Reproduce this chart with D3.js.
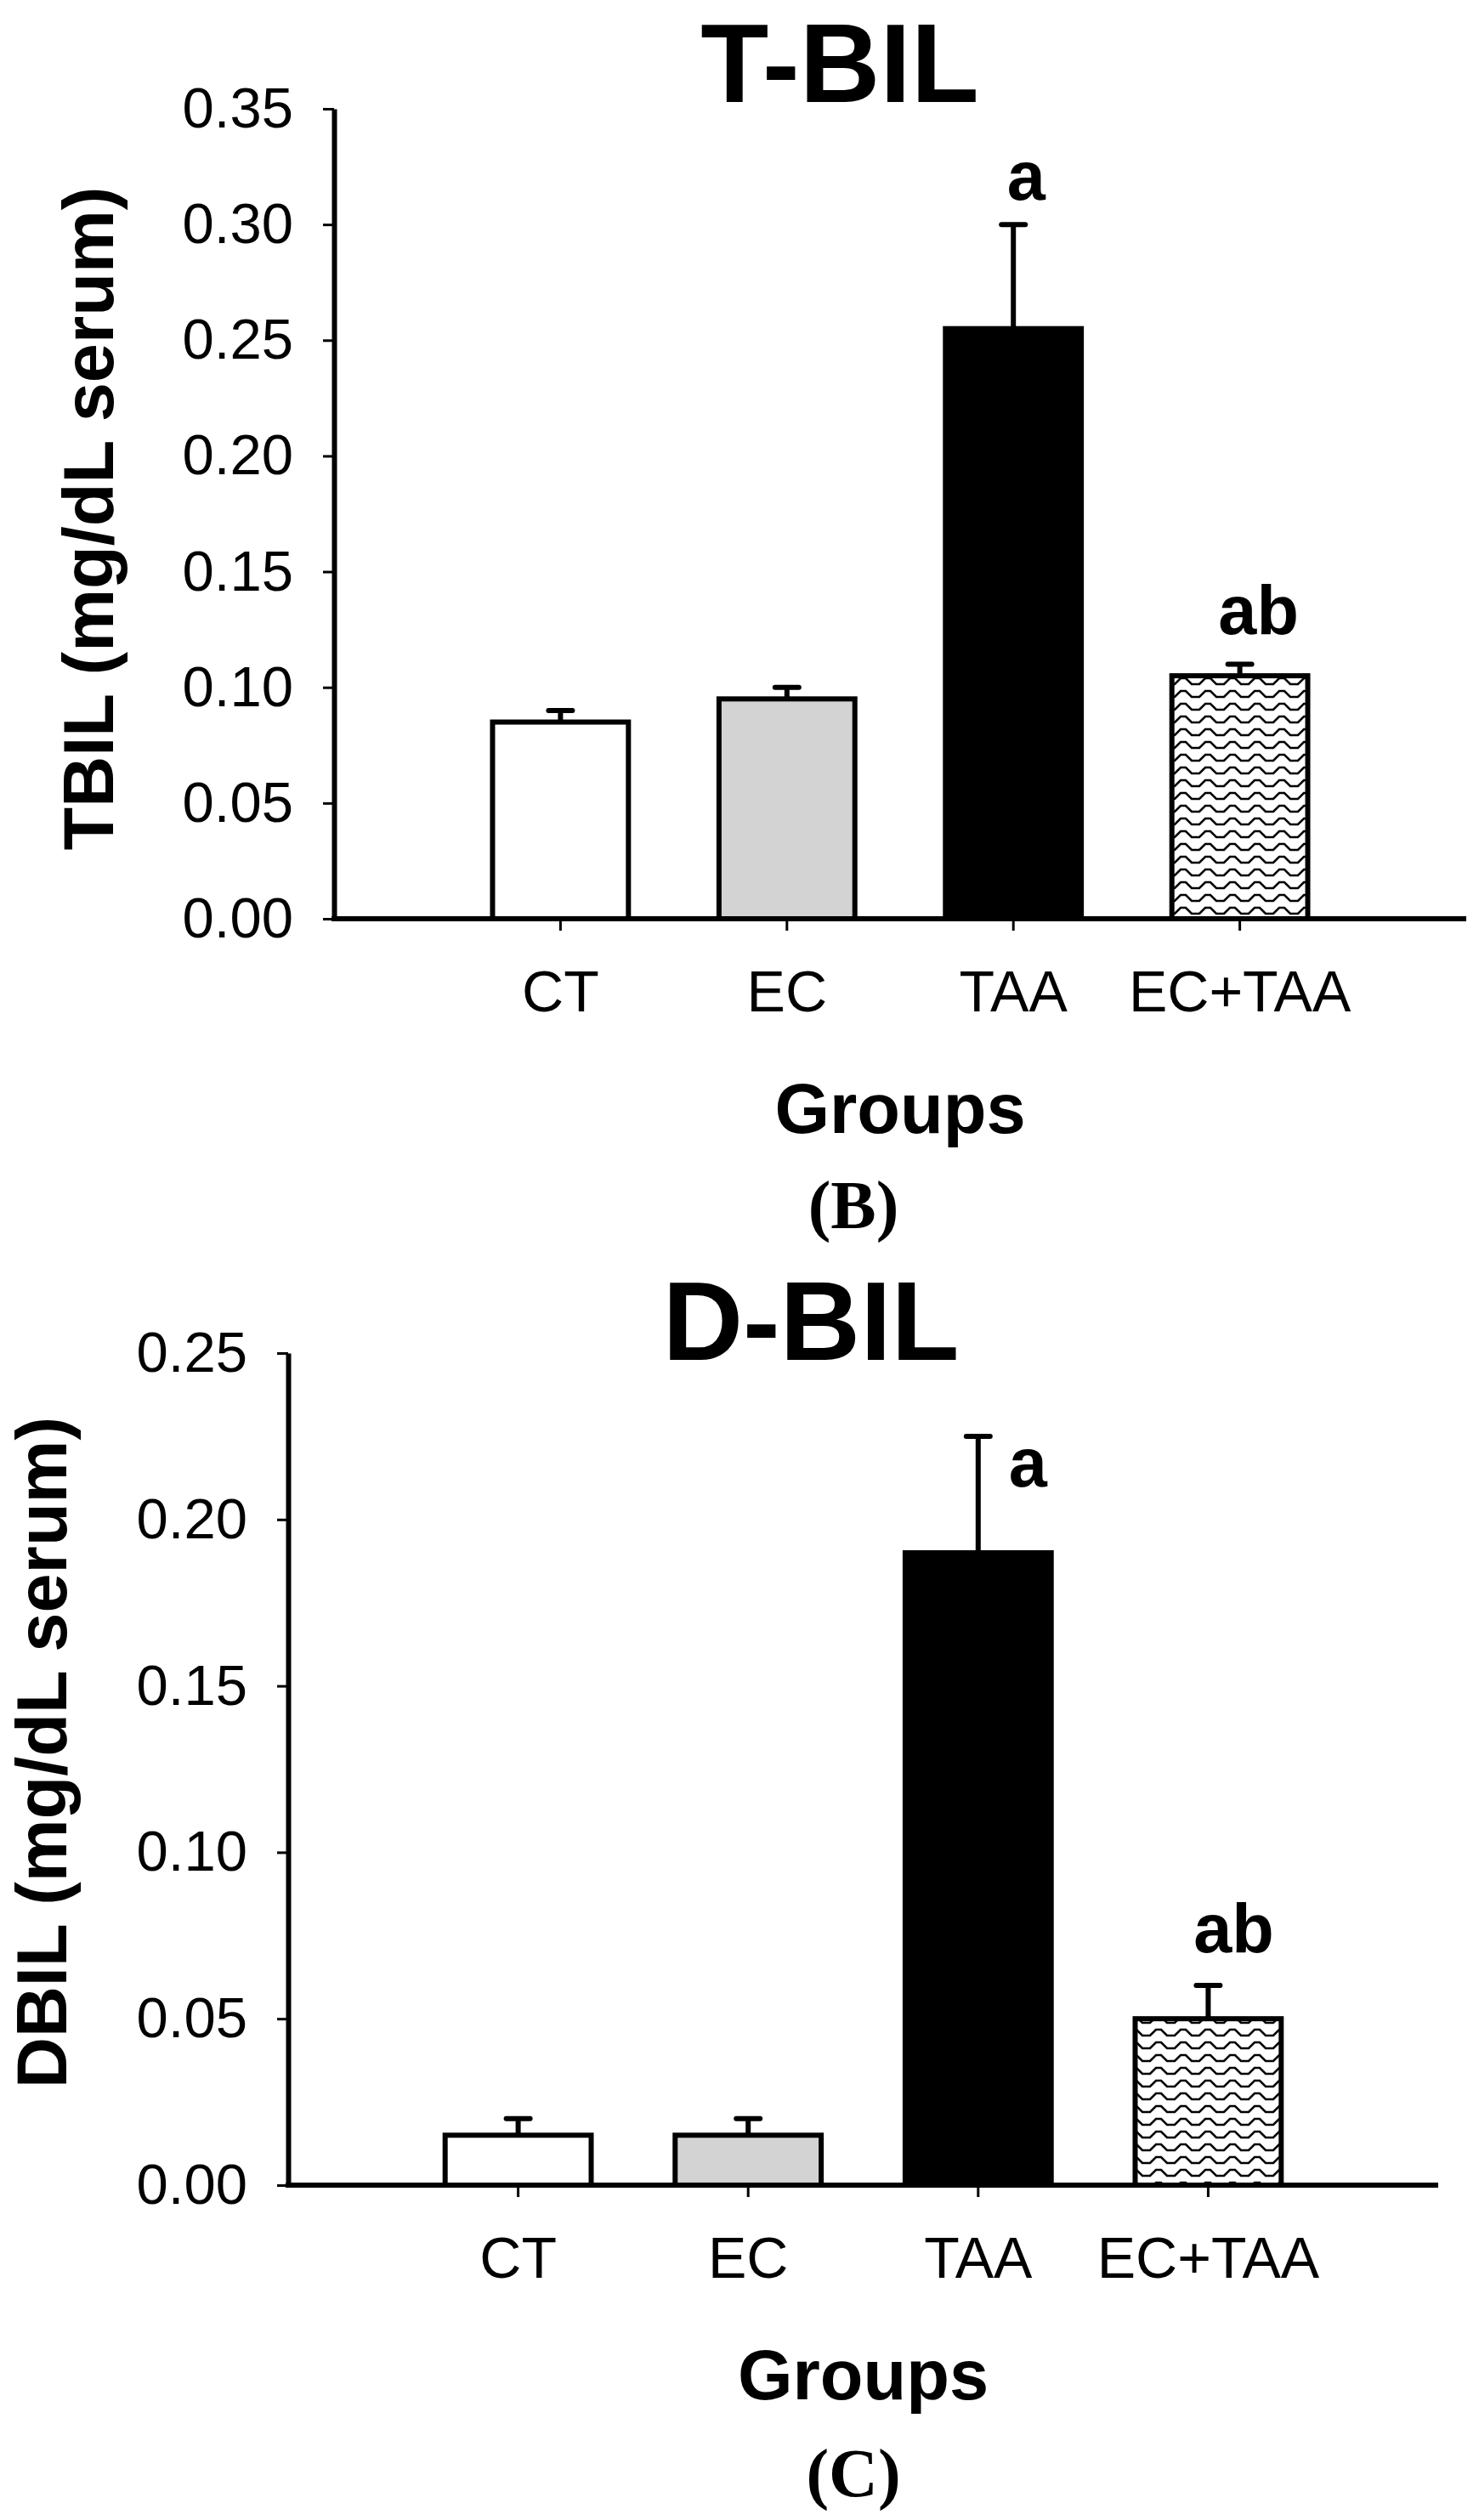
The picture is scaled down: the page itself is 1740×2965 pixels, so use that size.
<!DOCTYPE html>
<html>
<head>
<meta charset="utf-8">
<script src="https://cdn.jsdelivr.net/npm/d3@7"></script>
<style>
  html, body { margin: 0; padding: 0; background: #fff; }
  svg { display: block; }
</style>
</head>
<body>
<svg id="fig" width="1740" height="2965"></svg>
<script>
// values
const groups = ["CT", "EC", "TAA", "EC+TAA"];

const tbilMean = [0.085, 0.095, 0.255, 0.105];
const tbilErr = [0.005, 0.005, 0.045, 0.005];
const tbilSig = ["", "", "a", "ab"];
const tbilTicks = [0, 0.05, 0.10, 0.15, 0.20, 0.25, 0.30, 0.35];

const dbilMean = [0.015, 0.015, 0.19, 0.05];
const dbilErr = [0.005, 0.005, 0.035, 0.01];
const dbilSig = ["", "", "a", "ab"];
const dbilTicks = [0, 0.05, 0.10, 0.15, 0.20, 0.25];

const barFills = ["#ffffff", "#d3d3d3", "#000000", "url(#wave)"];

const sans = "'Liberation Sans', Arial, sans-serif";
const serif = "'Liberation Serif', 'Times New Roman', serif";

const svg = d3.select("#fig");

// wavy fill for the EC+TAA bar
const pat = svg.append("defs").append("pattern")
    .attr("id", "wave")
    .attr("patternUnits", "userSpaceOnUse")
    .attr("width", 29)
    .attr("height", 15);
pat.append("rect").attr("width", 29).attr("height", 15).attr("fill", "#fff");
pat.append("path")
    .attr("d", "M0,3 L3,3 L10,10 L19,10 L26,3 L29,3")
    .attr("fill", "none")
    .attr("stroke", "#000")
    .attr("stroke-width", 2.6);

function drawPanel(opt) {
    const g = svg.append("g");

    const x = d3.scaleBand()
        .domain(groups)
        .range([opt.x0, opt.x1])
        .paddingInner(opt.pad)
        .paddingOuter((1 + opt.pad) / 2);

    const y = d3.scaleLinear()
        .domain([0, d3.max(opt.ticks)])
        .range([opt.yBottom, opt.yTop]);

    // bars
    g.selectAll("rect.bar")
        .data(opt.mean)
        .join("rect")
        .attr("class", "bar")
        .attr("x", (d, i) => x(groups[i]))
        .attr("width", x.bandwidth())
        .attr("y", d => y(d))
        .attr("height", d => y(0) - y(d))
        .attr("fill", (d, i) => barFills[i])
        .attr("stroke", "#000")
        .attr("stroke-width", 6);

    // upper error bars
    const cx = i => x(groups[i]) + x.bandwidth() / 2;
    g.selectAll("line.stem")
        .data(opt.mean)
        .join("line")
        .attr("x1", (d, i) => cx(i))
        .attr("x2", (d, i) => cx(i))
        .attr("y1", d => y(d))
        .attr("y2", (d, i) => y(d + opt.err[i]))
        .attr("stroke", "#000")
        .attr("stroke-width", 6);
    g.selectAll("line.cap")
        .data(opt.mean)
        .join("line")
        .attr("x1", (d, i) => cx(i) - 14)
        .attr("x2", (d, i) => cx(i) + 14)
        .attr("y1", (d, i) => y(d + opt.err[i]))
        .attr("y2", (d, i) => y(d + opt.err[i]))
        .attr("stroke", "#000")
        .attr("stroke-width", 6)
        .attr("stroke-linecap", "round");

    // significance letters
    g.selectAll("text.sig")
        .data(opt.sig)
        .join("text")
        .attr("x", (d, i) => cx(i) + opt.sigDx[i])
        .attr("y", (d, i) => y(opt.mean[i] + opt.err[i]) + opt.sigDy[i])
        .attr("text-anchor", (d, i) => opt.sigAnchor[i])
        .attr("font-family", sans)
        .attr("font-weight", "bold")
        .attr("font-size", 81)
        .text(d => d);

    // y axis
    const yAxis = g.append("g")
        .attr("transform", `translate(${opt.x0},0)`)
        .call(d3.axisLeft(y)
            .tickValues(opt.ticks)
            .tickFormat(d3.format(".2f"))
            .tickSizeInner(13)
            .tickSizeOuter(0)
            .tickPadding(35));
    yAxis.select(".domain").attr("stroke-width", 6);
    yAxis.selectAll(".tick line").attr("stroke-width", 3);
    yAxis.selectAll(".tick text")
        .attr("font-family", sans)
        .attr("font-size", 67)
        .attr("fill", "#000");

    // x axis
    const xAxis = g.append("g")
        .attr("transform", `translate(0,${opt.yBottom})`)
        .call(d3.axisBottom(x)
            .tickSizeInner(14)
            .tickSizeOuter(0)
            .tickPadding(47));
    xAxis.select(".domain")
        .attr("d", `M${opt.x0 - 3},0H${opt.x1}`)
        .attr("stroke-width", 6);
    xAxis.selectAll(".tick line").attr("stroke-width", 3);
    xAxis.selectAll(".tick text")
        .attr("font-family", sans)
        .attr("font-size", 68)
        .attr("fill", "#000");

    // titles and labels
    g.append("text")
        .attr("x", opt.titleX)
        .attr("y", opt.titleY)
        .attr("text-anchor", "middle")
        .attr("font-family", sans)
        .attr("font-weight", "bold")
        .attr("font-size", 131)
        .text(opt.title);

    g.append("text")
        .attr("transform", `translate(${opt.yLabelX},${opt.yLabelY}) rotate(-90)`)
        .attr("text-anchor", "middle")
        .attr("font-family", sans)
        .attr("font-weight", "bold")
        .attr("font-size", 83)
        .text(opt.yLabel);

    g.append("text")
        .attr("x", (opt.x0 + opt.x1) / 2)
        .attr("y", opt.groupsY)
        .attr("text-anchor", "middle")
        .attr("font-family", sans)
        .attr("font-weight", "bold")
        .attr("font-size", 83)
        .text("Groups");

    g.append("text")
        .attr("x", 1004)
        .attr("y", opt.panelY)
        .attr("text-anchor", "middle")
        .attr("font-family", serif)
        .attr("font-weight", "bold")
        .attr("font-size", 80)
        .text(opt.panel);
}

drawPanel({
    mean: tbilMean, err: tbilErr, sig: tbilSig, ticks: tbilTicks,
    x0: 393, x1: 1725, yTop: 128, yBottom: 1081, pad: 0.4,
    sigDx: [0, 0, 15, 22], sigDy: [0, 0, -29, -35],
    sigAnchor: ["middle", "middle", "middle", "middle"],
    title: "T-BIL", titleX: 988, titleY: 120,
    yLabel: "TBIL (mg/dL serum)", yLabelX: 133, yLabelY: 610,
    groupsY: 1333, panel: "(B)", panelY: 1445
});

drawPanel({
    mean: dbilMean, err: dbilErr, sig: dbilSig, ticks: dbilTicks,
    x0: 339, x1: 1692, yTop: 1592, yBottom: 2571, pad: 0.365,
    sigDx: [0, 0, 36, 30], sigDy: [0, 0, 59, -39],
    sigAnchor: ["middle", "middle", "start", "middle"],
    title: "D-BIL", titleX: 954, titleY: 1600,
    yLabel: "DBIL (mg/dL serum)", yLabelX: 78, yLabelY: 2062,
    groupsY: 2823, panel: "(C)", panelY: 2937
});
</script>
</body>
</html>
